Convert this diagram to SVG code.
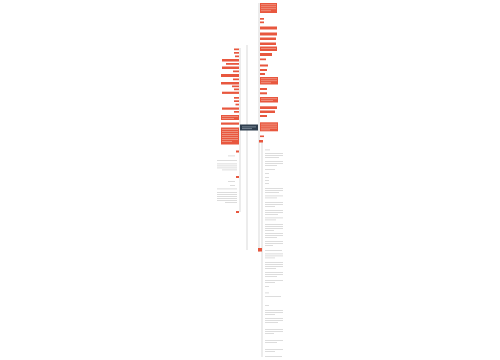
<svg xmlns="http://www.w3.org/2000/svg" width="500" height="360" viewBox="0 0 500 360">
<style>
.n{fill:#e8573e}
.m{fill:#e8573e}
.r{fill:#2f3e4e}
.t{fill:#f4b3a4}
.g{fill:#d4d4d4}
.c{stroke:#c9c9c9;stroke-width:0.7;fill:none}
</style>
<rect width="500" height="360" fill="#ffffff"/>
<g id="connectors">
<line class="c" x1="240" y1="48" x2="240" y2="212"/>
<line class="c" x1="247" y1="45" x2="247" y2="250"/>
<line class="c" x1="259" y1="3" x2="259" y2="252"/>
<line class="c" x1="262" y1="142" x2="262" y2="357"/>
</g>
<g id="root"><rect class="r" x="240" y="124.5" width="18" height="6"/><rect x="242" y="126.5" width="14" height="0.8" fill="#8a97a5"/><rect x="242" y="128.3" width="10" height="0.8" fill="#8a97a5"/></g>
<g id="left">
<g id="l1"><rect class="n" x="234" y="48.5" width="5" height="1.7"/></g>
<g id="l2"><rect class="n" x="234" y="52" width="5" height="1.7"/></g>
<g id="l3"><rect class="n" x="235" y="55.5" width="4" height="1.7"/></g>
<g id="l4"><rect class="n" x="222" y="59" width="17" height="2.5"/></g>
<g id="l5"><rect class="n" x="226" y="63" width="13" height="1.8"/></g>
<g id="l6"><rect class="n" x="222" y="66.5" width="17" height="2.5"/></g>
<g id="l7"><rect class="n" x="233" y="70.5" width="6" height="1.7"/></g>
<g id="l8"><rect class="n" x="221" y="74" width="18" height="3"/></g>
<g id="l9"><rect class="n" x="233" y="78.5" width="6" height="1.7"/></g>
<g id="l10"><rect class="n" x="221" y="82" width="18" height="2.5"/></g>
<g id="l11"><rect class="n" x="232" y="85.5" width="7" height="1.7"/></g>
<g id="l12"><rect class="n" x="234" y="88.5" width="5" height="1.7"/></g>
<g id="l13"><rect class="n" x="222" y="91.7" width="17" height="2.2"/></g>
<g id="l14"><rect class="n" x="234" y="97" width="5" height="1.7"/></g>
<g id="l15"><rect class="n" x="234" y="100.3" width="5" height="1.7"/></g>
<g id="l16"><rect class="n" x="235.5" y="103.7" width="3.5" height="1.7"/></g>
<g id="l17"><rect class="n" x="222" y="107.5" width="17" height="2.2"/></g>
<g id="l18"><rect class="n" x="234" y="111" width="5" height="1.7"/></g>
<g id="l19"><rect class="n" x="221" y="115" width="18" height="5"/><rect class="t" x="222" y="116.3" width="16" height="0.6"/><rect class="t" x="222" y="118" width="12" height="0.6"/></g>
<g id="l20"><rect class="n" x="221" y="122.5" width="18" height="2.2"/></g>
<g id="l21"><rect class="n" x="221" y="127.5" width="18" height="17"/><rect class="t" x="222" y="129" width="16" height="0.6"/><rect class="t" x="222" y="131" width="16" height="0.6"/><rect class="t" x="222" y="133" width="16" height="0.6"/><rect class="t" x="222" y="135" width="16" height="0.6"/><rect class="t" x="222" y="137" width="16" height="0.6"/><rect class="t" x="222" y="139" width="16" height="0.6"/><rect class="t" x="222" y="141" width="10" height="0.6"/></g>
<g id="l22"><rect class="m" x="236" y="150.5" width="3" height="2"/>
<rect class="g" x="228" y="155.5" width="7" height="0.8"/>
<rect class="g" x="217" y="160" width="20" height="0.8"/>
<rect class="g" x="217" y="163.5" width="20" height="0.8"/>
<rect class="g" x="217" y="165.5" width="20" height="0.8"/>
<rect class="g" x="217" y="167.5" width="20" height="0.8"/>
<rect class="g" x="222" y="169.5" width="15" height="0.8"/></g>
<g id="l23"><rect class="m" x="236" y="176" width="3" height="2"/>
<rect class="g" x="228" y="181" width="7" height="0.8"/>
<rect class="g" x="230" y="185" width="5" height="0.8"/>
<rect class="g" x="217" y="188.5" width="20" height="0.8"/>
<rect class="g" x="217" y="192" width="20" height="0.8"/>
<rect class="g" x="217" y="194" width="20" height="0.8"/>
<rect class="g" x="217" y="196" width="20" height="0.8"/>
<rect class="g" x="217" y="198" width="20" height="0.8"/>
<rect class="g" x="217" y="200" width="20" height="0.8"/>
<rect class="g" x="225" y="202" width="12" height="0.8"/></g>
<g id="l24"><rect class="m" x="236" y="211" width="3" height="2"/></g>
</g>
<g id="right">
<g id="r1"><rect class="n" x="260" y="3" width="17" height="10"/><rect class="t" x="261" y="4.5" width="15" height="0.6"/><rect class="t" x="261" y="6.5" width="15" height="0.6"/><rect class="t" x="261" y="8.5" width="15" height="0.6"/><rect class="t" x="261" y="10.5" width="10" height="0.6"/></g>
<g id="r2"><rect class="n" x="260" y="18" width="4" height="1.7"/></g>
<g id="r3"><rect class="n" x="260" y="21.5" width="4" height="1.7"/></g>
<g id="r4"><rect class="n" x="260" y="26.5" width="17" height="3"/></g>
<g id="r5"><rect class="n" x="260" y="32.5" width="17" height="3"/></g>
<g id="r6"><rect class="n" x="260" y="37.5" width="16" height="2.5"/></g>
<g id="r7"><rect class="n" x="260" y="42.5" width="16" height="2.5"/></g>
<g id="r8"><rect class="n" x="260" y="46.5" width="17" height="4.5"/><rect class="t" x="261" y="48" width="15" height="0.6"/></g>
<g id="r9"><rect class="n" x="260" y="53" width="12" height="3"/></g>
<g id="r10"><rect class="n" x="260" y="58.5" width="6" height="1.7"/></g>
<g id="r11"><rect class="n" x="260" y="64.5" width="8" height="2"/></g>
<g id="r12"><rect class="n" x="260" y="69" width="7" height="2"/></g>
<g id="r13"><rect class="n" x="260" y="73" width="5" height="2"/></g>
<g id="r14"><rect class="n" x="260" y="77" width="18" height="7.5"/><rect class="t" x="261" y="78.5" width="16" height="0.6"/><rect class="t" x="261" y="80.5" width="16" height="0.6"/><rect class="t" x="261" y="82.5" width="10" height="0.6"/></g>
<g id="r15"><rect class="n" x="260" y="88" width="7" height="2"/></g>
<g id="r16"><rect class="n" x="260" y="92.3" width="7" height="2"/></g>
<g id="r17"><rect class="n" x="260" y="97" width="18" height="5.5"/><rect class="t" x="261" y="98.5" width="16" height="0.6"/><rect class="t" x="261" y="100.3" width="12" height="0.6"/></g>
<g id="r18"><rect class="n" x="260" y="106.3" width="17" height="2.7"/></g>
<g id="r19"><rect class="n" x="260" y="110.5" width="15" height="2.5"/></g>
<g id="r20"><rect class="n" x="260" y="115" width="7" height="2"/></g>
<g id="r21"><rect class="n" x="260" y="122.3" width="18" height="9"/><rect class="t" x="261" y="123.8" width="16" height="0.6"/><rect class="t" x="261" y="125.8" width="16" height="0.6"/><rect class="t" x="261" y="127.8" width="16" height="0.6"/><rect class="t" x="261" y="129.6" width="9" height="0.6"/></g>
<g id="r22"><rect class="n" x="260" y="135.5" width="4" height="1.6"/></g>
<g id="r23"><rect class="n" x="259" y="140" width="4" height="2.5"/>
<rect class="g" x="265" y="149.5" width="5" height="0.8"/>
<rect class="g" x="265" y="153" width="18" height="0.8"/><rect class="g" x="265" y="155" width="18" height="0.8"/><rect class="g" x="265" y="157" width="14" height="0.8"/>
<rect class="g" x="265" y="161" width="18" height="0.8"/><rect class="g" x="265" y="163" width="18" height="0.8"/><rect class="g" x="265" y="165" width="12" height="0.8"/>
<rect class="g" x="265" y="169" width="10" height="0.8"/>
<rect class="g" x="265" y="173" width="4" height="0.8"/><rect class="g" x="265" y="177" width="4" height="0.8"/><rect class="g" x="265" y="180" width="4" height="0.8"/><rect class="g" x="265" y="183" width="4" height="0.8"/>
<rect class="g" x="265" y="188" width="18" height="0.8"/><rect class="g" x="265" y="190" width="18" height="0.8"/><rect class="g" x="265" y="192" width="14" height="0.8"/>
<rect class="g" x="265" y="195.5" width="18" height="0.8"/><rect class="g" x="265" y="197.5" width="12" height="0.8"/>
<rect class="g" x="265" y="202" width="18" height="0.8"/><rect class="g" x="265" y="204" width="18" height="0.8"/><rect class="g" x="265" y="206" width="10" height="0.8"/>
<rect class="g" x="265" y="210" width="18" height="0.8"/><rect class="g" x="265" y="212" width="18" height="0.8"/><rect class="g" x="265" y="214" width="13" height="0.8"/>
<rect class="g" x="265" y="217.5" width="18" height="0.8"/><rect class="g" x="265" y="219.5" width="11" height="0.8"/>
<rect class="g" x="265" y="224" width="18" height="0.8"/><rect class="g" x="265" y="226" width="18" height="0.8"/><rect class="g" x="265" y="228" width="18" height="0.8"/><rect class="g" x="265" y="230" width="9" height="0.8"/>
<rect class="g" x="265" y="233" width="18" height="0.8"/><rect class="g" x="265" y="235" width="18" height="0.8"/><rect class="g" x="265" y="237" width="12" height="0.8"/>
<rect class="g" x="265" y="241" width="18" height="0.8"/><rect class="g" x="265" y="243" width="18" height="0.8"/><rect class="g" x="265" y="245" width="8" height="0.8"/></g>
<g id="r24"><rect class="m" x="258" y="248" width="4" height="3.5"/>
<rect class="g" x="265" y="250" width="17" height="0.8"/>
<rect class="g" x="265" y="253.5" width="18" height="0.8"/><rect class="g" x="265" y="255.5" width="18" height="0.8"/><rect class="g" x="265" y="257.5" width="10" height="0.8"/>
<rect class="g" x="265" y="262" width="18" height="0.8"/><rect class="g" x="265" y="264" width="18" height="0.8"/><rect class="g" x="265" y="266" width="18" height="0.8"/><rect class="g" x="265" y="268" width="11" height="0.8"/>
<rect class="g" x="265" y="272" width="18" height="0.8"/><rect class="g" x="265" y="274" width="18" height="0.8"/><rect class="g" x="265" y="276" width="12" height="0.8"/>
<rect class="g" x="265" y="280" width="18" height="0.8"/><rect class="g" x="265" y="282" width="10" height="0.8"/>
<rect class="g" x="265" y="286" width="4" height="0.8"/>
<rect class="g" x="265" y="292.5" width="4" height="0.8"/>
<rect class="g" x="265" y="296" width="16" height="0.8"/>
<rect class="g" x="265" y="305" width="4" height="0.8"/>
<rect class="g" x="265" y="310" width="18" height="0.8"/><rect class="g" x="265" y="312" width="18" height="0.8"/><rect class="g" x="265" y="314" width="10" height="0.8"/>
<rect class="g" x="265" y="318" width="18" height="0.8"/><rect class="g" x="265" y="320" width="18" height="0.8"/><rect class="g" x="265" y="322" width="13" height="0.8"/>
<rect class="g" x="265" y="329" width="18" height="0.8"/><rect class="g" x="265" y="331" width="18" height="0.8"/><rect class="g" x="265" y="333" width="9" height="0.8"/>
<rect class="g" x="265" y="340" width="18" height="0.8"/><rect class="g" x="265" y="342" width="12" height="0.8"/>
<rect class="g" x="265" y="349" width="18" height="0.8"/><rect class="g" x="265" y="351" width="10" height="0.8"/>
<rect class="g" x="265" y="356" width="17" height="0.8"/></g>
</g>
</svg>
